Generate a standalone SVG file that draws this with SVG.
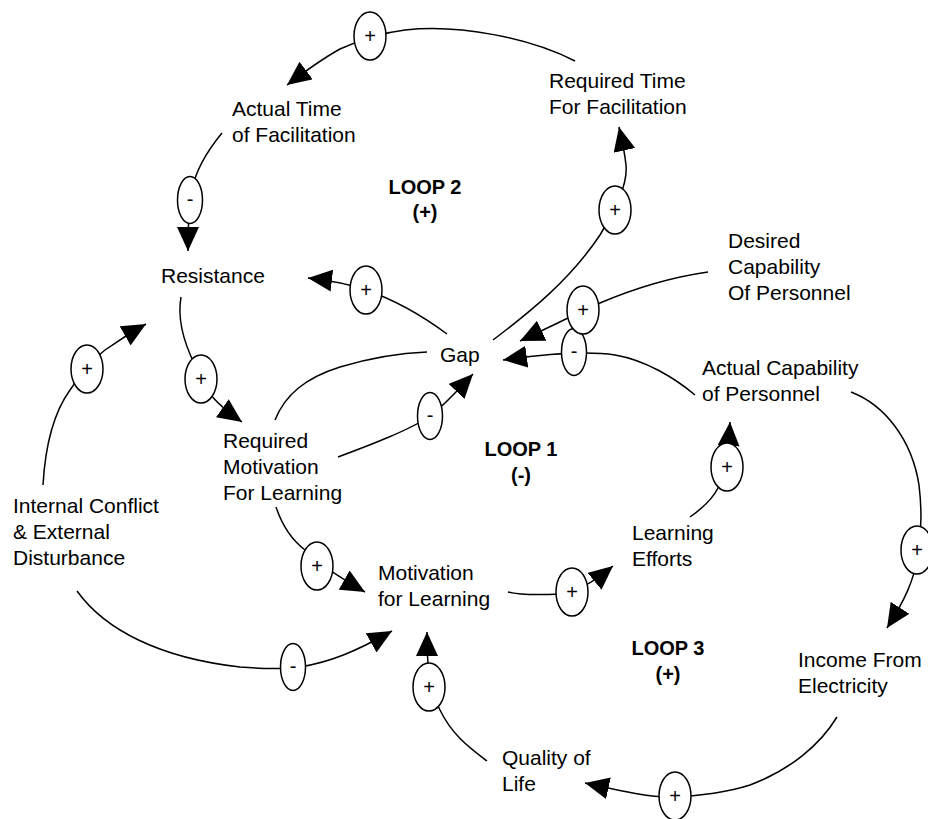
<svg xmlns="http://www.w3.org/2000/svg" width="928" height="819" viewBox="0 0 928 819">
<defs>
<marker id="arrow" viewBox="0 0 24 22" refX="24" refY="11" markerWidth="24" markerHeight="22" markerUnits="userSpaceOnUse" orient="auto">
<path d="M0,0 L24,11 L0,22 z" fill="#000"/>
</marker>
</defs>
<style>
.lbl{font-family:"Liberation Sans",Arial,sans-serif;font-size:21px;fill:#000}
.loop{font-family:"Liberation Sans",Arial,sans-serif;font-weight:bold;font-size:20px;text-anchor:middle;fill:#000}
.link{fill:none;stroke:#000;stroke-width:1.5}
.arr{marker-end:url(#arrow)}
.pol ellipse{fill:#fff;stroke:#000;stroke-width:1.5}
.pol text{font-family:"Liberation Sans",Arial,sans-serif;font-size:20px;text-anchor:middle;fill:#000}
</style>
<rect width="928" height="819" fill="#fff"/>
<g id="connectors">
<path class="link arr" d="M575,61 C530,38 460,24 405,30 C380,33 360,40 340,49 Q320,60 287,85"/>
<path class="link arr" d="M222,133 C208,150 196,168 192,190 C189,205 188,220 188,251"/>
<path class="link arr" d="M447,334 C420,314 395,300 366,290 C352,285 335,281 308,278"/>
<path class="link arr" d="M181,297 C177,320 185,345 195,365 C205,392 215,403 242,422"/>
<path class="link arr" d="M43,485 C45,450 52,415 70,390 C80,375 92,360 105,350 C115,343 125,336 146,324"/>
<path class="link arr" d="M493,340 C530,312 570,280 600,235 C615,210 628,185 626,165 C625,155 622,140 619,127"/>
<path class="link arr" d="M708,272 C680,276 640,286 600,303 C580,312 560,322 520,341"/>
<path class="link arr" d="M695,395 C675,378 645,360 615,355 C595,352 560,352 503,360"/>
<path class="link arr" d="M338,457 C370,445 410,430 430,416 C445,405 455,393 473,374"/>
<path class="link" d="M275,420 C285,395 305,378 340,367 C370,358 400,353 427,352"/>
<path class="link arr" d="M276,507 C282,525 292,540 305,550 C315,560 330,572 365,592"/>
<path class="link arr" d="M77,591 C105,630 160,658 240,667 C265,669 285,669 300,667 C330,662 355,652 392,631"/>
<path class="link arr" d="M487,761 C470,748 452,735 440,710 C432,695 427,680 427,632"/>
<path class="link arr" d="M508,592 C520,595 540,595 560,594 C575,592 590,585 613,566"/>
<path class="link arr" d="M690,517 C700,510 712,500 718,488 C724,475 728,455 730,422"/>
<path class="link arr" d="M851,392 C885,405 912,440 919,485 C922,510 922,530 918,555 C914,580 905,600 887,628"/>
<path class="link arr" d="M837,717 C820,745 790,770 750,785 C725,793 700,796 670,797 C650,797 630,793 585,783"/>
</g>
<g id="polarities" class="pol">
<ellipse cx="370" cy="36" rx="16" ry="24"/><text x="370" y="43">+</text>
<ellipse cx="190" cy="200" rx="12.5" ry="23.5"/><text x="190" y="205.5">-</text>
<ellipse cx="366" cy="290" rx="16" ry="24"/><text x="366" y="297">+</text>
<ellipse cx="615" cy="210" rx="16" ry="24"/><text x="615" y="217">+</text>
<ellipse cx="574" cy="352" rx="12.5" ry="23.5"/><text x="574" y="357.5">-</text>
<ellipse cx="583" cy="310" rx="16" ry="24"/><text x="583" y="317">+</text>
<ellipse cx="201" cy="379" rx="16" ry="24"/><text x="201" y="386">+</text>
<ellipse cx="87" cy="369" rx="16" ry="24"/><text x="87" y="376">+</text>
<ellipse cx="430" cy="416" rx="12.5" ry="23.5"/><text x="430" y="421.5">-</text>
<ellipse cx="317" cy="566" rx="16" ry="24"/><text x="317" y="573">+</text>
<ellipse cx="727" cy="467" rx="16" ry="24"/><text x="727" y="474">+</text>
<ellipse cx="572" cy="592" rx="16" ry="24"/><text x="572" y="599">+</text>
<ellipse cx="917" cy="550" rx="16" ry="24"/><text x="917" y="557">+</text>
<ellipse cx="293" cy="667" rx="12.5" ry="23.5"/><text x="293" y="672.5">-</text>
<ellipse cx="429" cy="687" rx="16" ry="24"/><text x="429" y="694">+</text>
<ellipse cx="675" cy="796" rx="16" ry="24"/><text x="675" y="803">+</text>
</g>
<g id="actual-time">
<text class="lbl" x="232" y="116">Actual Time</text>
<text class="lbl" x="232" y="142">of Facilitation</text>
</g>
<g id="required-time">
<text class="lbl" x="549" y="88">Required Time</text>
<text class="lbl" x="549" y="114">For Facilitation</text>
</g>
<g id="loop2">
<text class="loop" x="425" y="194">LOOP 2</text>
<text class="loop" x="425" y="219">(+)</text>
</g>
<g id="resistance">
<text class="lbl" x="161" y="283">Resistance</text>
</g>
<g id="desired-capability">
<text class="lbl" x="728" y="248">Desired</text>
<text class="lbl" x="728" y="274">Capability</text>
<text class="lbl" x="728" y="300">Of Personnel</text>
</g>
<g id="gap">
<text class="lbl" x="440" y="362">Gap</text>
</g>
<g id="actual-capability">
<text class="lbl" x="702" y="375">Actual Capability</text>
<text class="lbl" x="702" y="401">of Personnel</text>
</g>
<g id="required-motivation">
<text class="lbl" x="223" y="448">Required</text>
<text class="lbl" x="223" y="474">Motivation</text>
<text class="lbl" x="223" y="500">For Learning</text>
</g>
<g id="loop1">
<text class="loop" x="521" y="456">LOOP 1</text>
<text class="loop" x="521" y="482">(-)</text>
</g>
<g id="internal-conflict">
<text class="lbl" x="13" y="513">Internal Conflict</text>
<text class="lbl" x="13" y="539">&amp; External</text>
<text class="lbl" x="13" y="565">Disturbance</text>
</g>
<g id="learning-efforts">
<text class="lbl" x="632" y="540">Learning</text>
<text class="lbl" x="632" y="566">Efforts</text>
</g>
<g id="motivation">
<text class="lbl" x="378" y="580">Motivation</text>
<text class="lbl" x="378" y="606">for Learning</text>
</g>
<g id="loop3">
<text class="loop" x="668" y="655">LOOP 3</text>
<text class="loop" x="668" y="681">(+)</text>
</g>
<g id="income">
<text class="lbl" x="798" y="667">Income From</text>
<text class="lbl" x="798" y="693">Electricity</text>
</g>
<g id="quality-of-life">
<text class="lbl" x="502" y="765">Quality of</text>
<text class="lbl" x="502" y="791">Life</text>
</g>
</svg>
